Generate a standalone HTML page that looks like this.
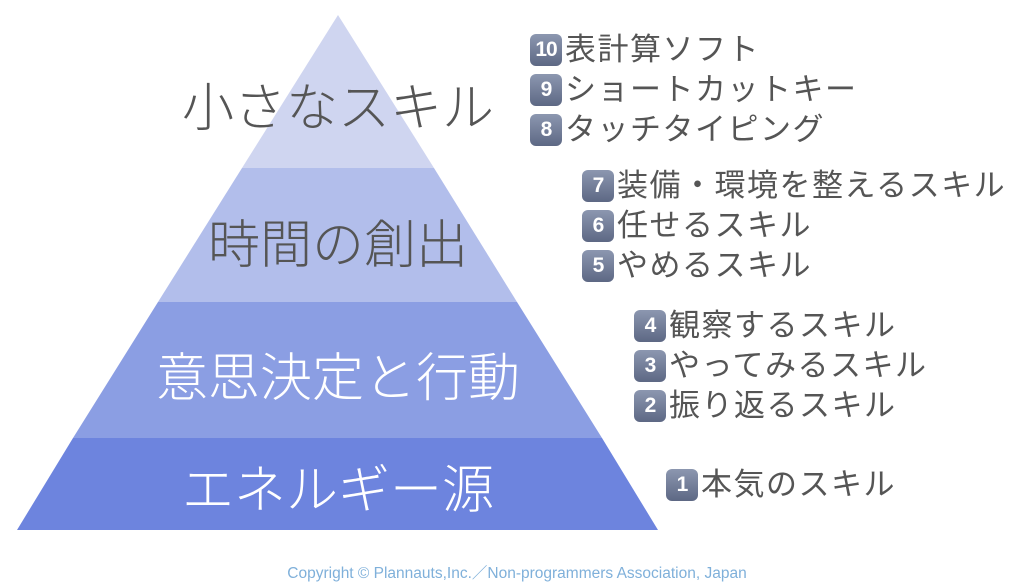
<!DOCTYPE html>
<html><head><meta charset="utf-8"><style>
body{margin:0;width:1024px;height:587px;background:#fff;position:relative;overflow:hidden;font-family:"Liberation Sans","Noto Sans CJK JP",sans-serif}
.t{position:absolute;white-space:nowrap;font-size:52px;font-weight:300;left:0;width:676px;text-align:center}
.l{position:absolute;white-space:nowrap;font-size:31px;letter-spacing:1.5px;color:#555;line-height:34px;display:flex;align-items:center}
.b{display:inline-block;width:32px;height:32px;border-radius:6px;background:linear-gradient(#8c97b0,#5d6884);color:#fff;font-size:21px;font-weight:bold;text-align:center;line-height:32px;margin-right:3px;font-family:"Liberation Sans",sans-serif;letter-spacing:-1px}
</style></head><body>
<svg width="1024" height="587" style="position:absolute;left:0;top:0">
<polygon points="338,15 434,168 242,168" fill="#cfd5f0"/>
<polygon points="242,168 434,168 517,302 158,302" fill="#b2beeb"/>
<polygon points="158,302 517,302 602,438 73,438" fill="#8b9ee3"/>
<polygon points="73,438 602,438 658,530 17,530" fill="#6d84de"/>
</svg>
<div class="t" style="top:66px;color:#555">小さなスキル</div>
<div class="t" style="top:203px;color:#555">時間の創出</div>
<div class="t" style="top:336px;color:#fff">意思決定と行動</div>
<div class="t" style="top:448px;color:#fff">エネルギー源</div>
<div class="l" style="left:530px;top:33px"><span class="b">10</span>表計算ソフト</div>
<div class="l" style="left:530px;top:73px"><span class="b">9</span>ショートカットキー</div>
<div class="l" style="left:530px;top:113px"><span class="b">8</span>タッチタイピング</div>
<div class="l" style="left:582px;top:169px"><span class="b">7</span>装備・環境を整えるスキル</div>
<div class="l" style="left:582px;top:209px"><span class="b">6</span>任せるスキル</div>
<div class="l" style="left:582px;top:249px"><span class="b">5</span>やめるスキル</div>
<div class="l" style="left:634px;top:309px"><span class="b">4</span>観察するスキル</div>
<div class="l" style="left:634px;top:349px"><span class="b">3</span>やってみるスキル</div>
<div class="l" style="left:634px;top:389px"><span class="b">2</span>振り返るスキル</div>
<div class="l" style="left:666px;top:468px"><span class="b">1</span>本気のスキル</div>
<div style="position:absolute;white-space:nowrap;left:0;width:1034px;text-align:center;top:561px;font-size:15.5px;color:#7fb0da">Copyright © Plannauts,Inc.／Non-programmers Association, Japan</div>
</body></html>
